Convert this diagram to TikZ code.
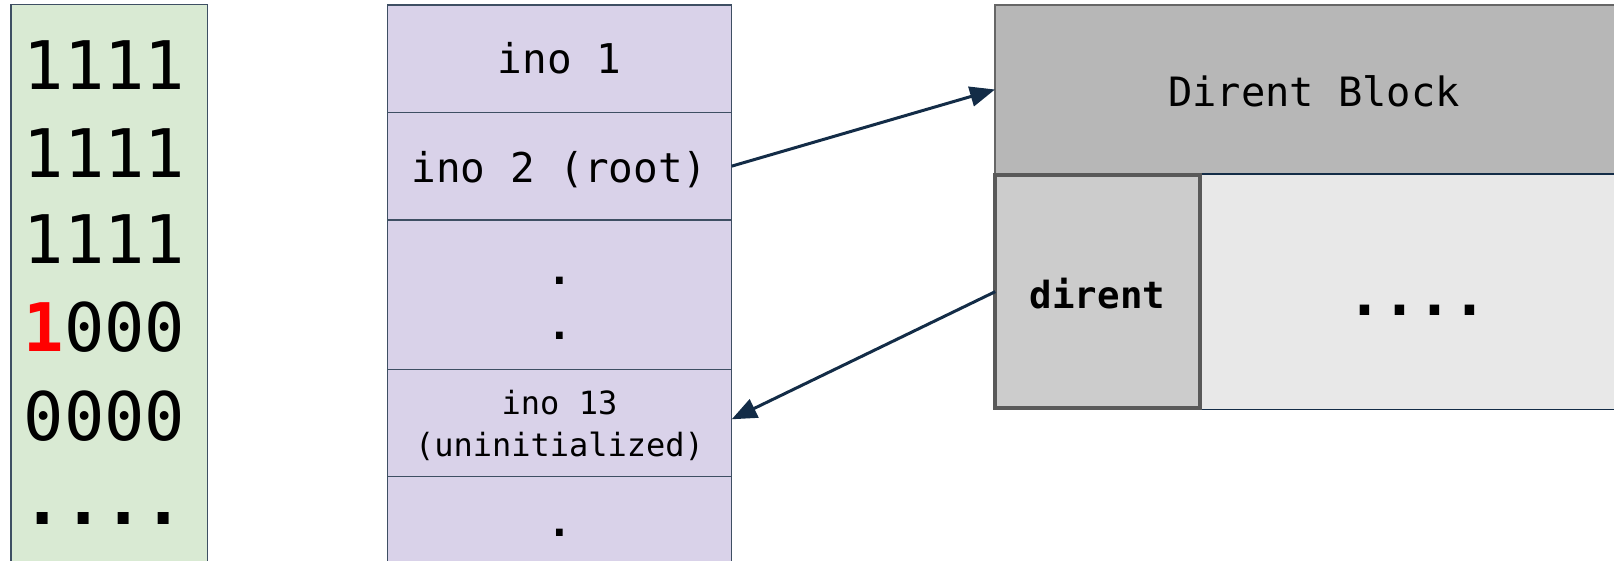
\documentclass[tikz,border=0pt]{standalone}
\usepackage{fontspec}
\setmonofont{DejaVu Sans Mono}
\usetikzlibrary{arrows.meta}
\definecolor{bitfill}{HTML}{D9EAD3}
\definecolor{inofill}{HTML}{D9D2E9}
\definecolor{slateline}{HTML}{3E4F63}
\definecolor{blockfill}{HTML}{B7B7B7}
\definecolor{blockline}{HTML}{666666}
\definecolor{direntfill}{HTML}{CCCCCC}
\definecolor{direntline}{HTML}{595959}
\definecolor{restfill}{HTML}{E8E8E8}
\definecolor{navy}{HTML}{132C47}
\definecolor{bitred}{HTML}{FF0000}
\tikzset{
  box/.style={draw, rectangle, inner sep=0, outer sep=0, anchor=north west},
  bitbox/.style={box, fill=bitfill, draw=slateline, line width=1.3pt},
  inorow/.style={box, fill=inofill, draw=slateline, line width=1.2pt, minimum width=344.4pt},
  txt/.style={inner sep=0, outer sep=0, anchor=base},
  bits/.style={txt, font=\ttfamily\fontsize{67}{67}\selectfont},
  inotxt/.style={txt, font=\ttfamily\fontsize{41}{41}\selectfont},
  inodot/.style={txt, font=\ttfamily\bfseries\fontsize{41}{41}\selectfont},
  inosmall/.style={txt, font=\ttfamily\fontsize{32}{32}\selectfont},
  arr/.style={draw=navy, line width=3pt, -{Triangle[length=25pt, width=20pt]}},
}
\begin{document}
\begin{tikzpicture}[x=1pt, y=-1pt]
  \useasboundingbox (0,0) rectangle (1614,561);
  \clip (0,0) rectangle (1614,561);

  % inode bitmap
  \node[bitbox, minimum width=196.3pt, minimum height=600pt] (bitmap) at (11,4.3) {};
  \node[bits] (b1) at (104.4,89.3) {1111};
  \node[bits] (b2) at (104.4,177.3) {1111};
  \node[bits] (b3) at (104.4,264) {1111};
  \node[bits] (b4) at (104.4,351.7) {\textcolor{bitred}{\bfseries 1}000};
  \node[bits] (b5) at (104.4,440.7) {0000};
  \node[bits, font=\ttfamily\bfseries\fontsize{67}{67}\selectfont] (b6) at (103.5,524) {....};

  % inode table
  \node[inorow, minimum height=107.3pt] (ino1) at (387.3,5) {};
  \node[inorow, minimum height=107.7pt] (ino2) at (387.3,112.3) {};
  \node[inorow, minimum height=149.3pt] (inogap) at (387.3,220) {};
  \node[inorow, minimum height=107.4pt] (ino13) at (387.3,369.3) {};
  \node[inorow, minimum height=130pt] (inorest) at (387.3,476.7) {};

  \node[inotxt] (t1) at (559.5,74) {ino 1};
  \node[inotxt] (t2) at (559.5,182.7) {ino 2 (root)};
  \node[inodot] (d1) at (559.5,284.5) {.};
  \node[inodot] (d2) at (559.5,339.5) {.};
  \node[inosmall] (t13a) at (559.5,414) {ino 13};
  \node[inosmall] (t13b) at (559.5,456) {(uninitialized)};
  \node[inodot] (d3) at (559.5,536) {.};

  % directory data block
  \node[box, fill=blockfill, draw=blockline, line width=1.3pt, minimum width=660pt, minimum height=169pt] (block) at (995,5) {};
  \node[box, fill=restfill, draw=navy, line width=1.2pt, minimum width=440pt, minimum height=235.5pt] (rest) at (1201,174) {};
  \node[box, fill=direntfill, draw=direntline, line width=4pt, minimum width=204.4pt, minimum height=232.7pt] (dirent) at (995.3,175.3) {};

  \node[txt, font=\ttfamily\fontsize{40.4}{40.4}\selectfont] (tblock) at (1314,106.7) {Dirent Block};
  \node[txt, font=\ttfamily\bfseries\fontsize{37.4}{37.4}\selectfont] (tdirent) at (1097.5,308.3) {dirent};
  \node[txt, font=\ttfamily\bfseries\fontsize{58}{58}\selectfont] (trest) at (1417.5,316) {....};

  % pointers
  \draw[arr] (ino2.east) -- (block.west);
  \draw[arr] (dirent.west) -- ([yshift=3.7pt]ino13.east);
\end{tikzpicture}
\end{document}
